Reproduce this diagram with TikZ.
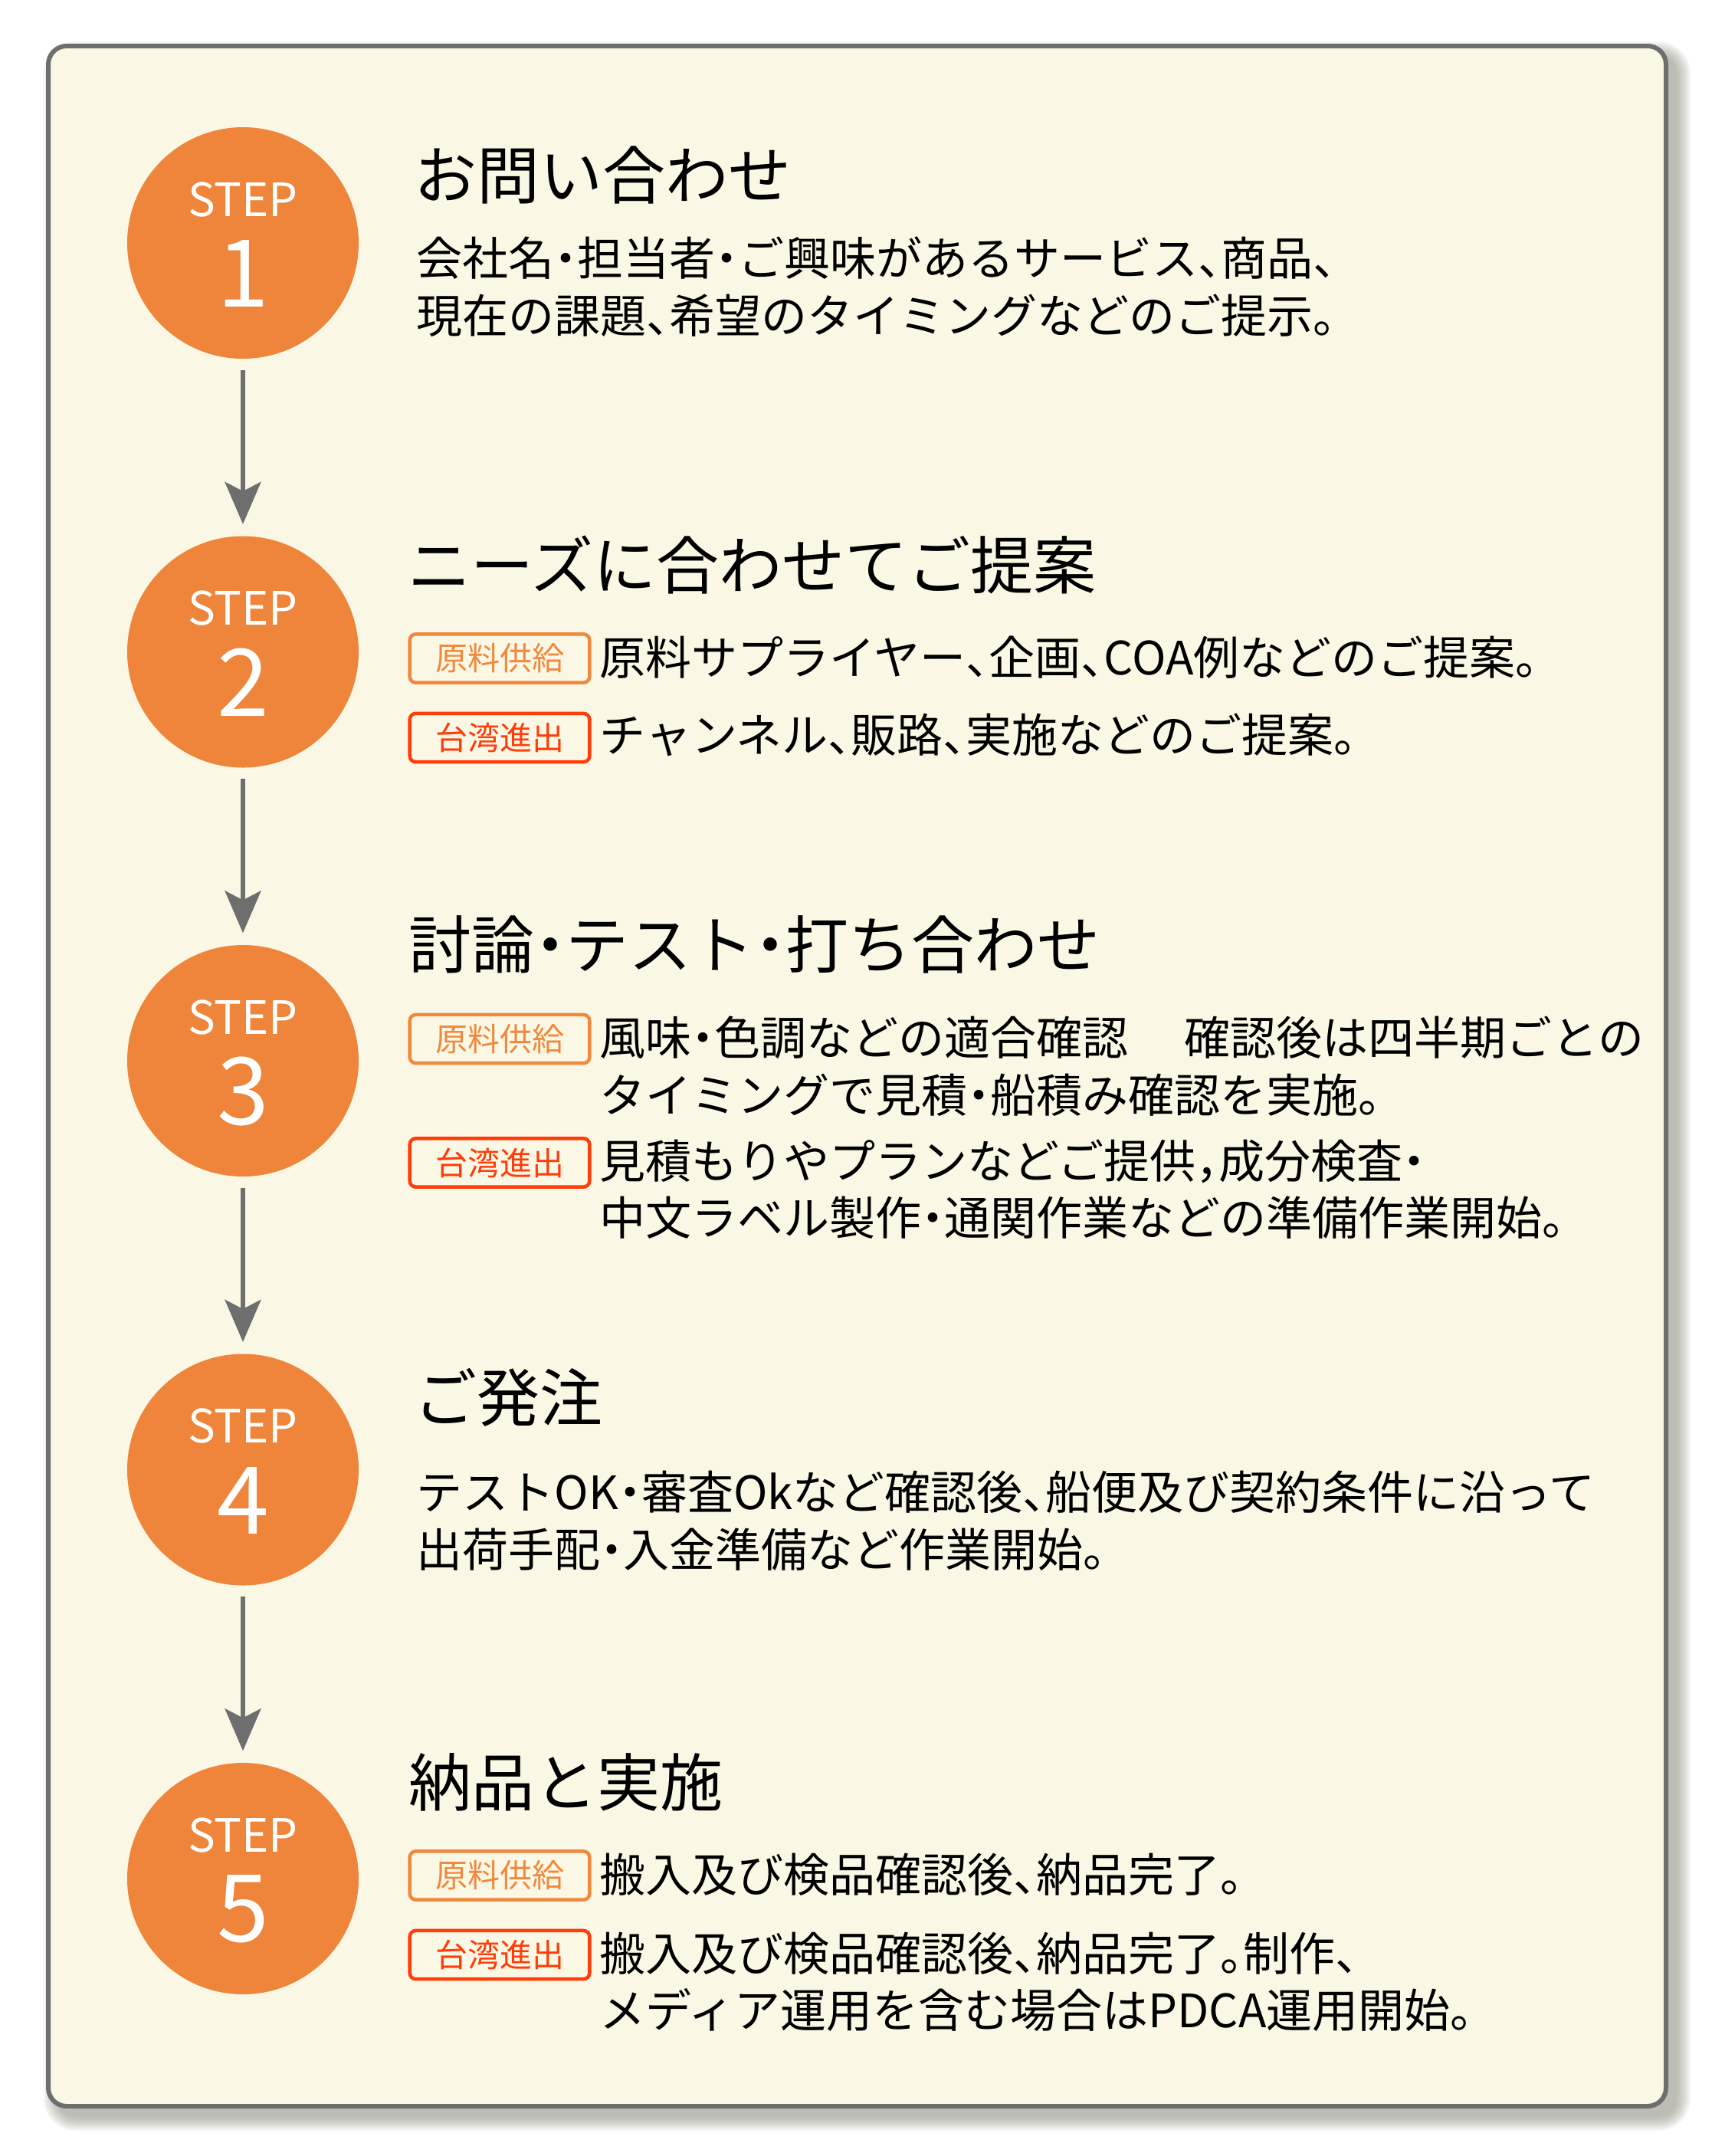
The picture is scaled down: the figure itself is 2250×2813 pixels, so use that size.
\documentclass[tikz,border=0pt]{standalone}
\usepackage{fontspec}
\setmainfont{Noto Sans CJK JP}
\usetikzlibrary{arrows.meta}
\definecolor{bgc}{HTML}{FAF8E5}
\definecolor{framec}{HTML}{6E6E6E}
\definecolor{stepor}{HTML}{EE853B}
\definecolor{tagor}{HTML}{F0893E}
\definecolor{tagred}{HTML}{FF3C0A}
\definecolor{shadowc}{HTML}{8F8F80}
\newcommand\hp[1]{{\addfontfeature{RawFeature=+halt}#1}}
\begin{document}
\begin{tikzpicture}[x=0.3pt,y=-0.3pt,
  stepc/.style={circle, fill=stepor, minimum size=90.6pt, inner sep=0pt},
  steplbl/.style={text=white, font=\fontsize{18pt}{18pt}\selectfont, inner sep=0pt},
  stepnum/.style={text=white, font=\fontsize{36.6pt}{36.6pt}\selectfont, inner sep=0pt},
  ttl/.style={anchor=west, inner sep=0pt, font=\fontsize{24.6pt}{24.6pt}\selectfont},
  body/.style={anchor=west, inner sep=0pt, font=\fontsize{18pt}{18pt}\selectfont},
  tagbox/.style={draw=#1, text=#1, line width=1.35pt, rounded corners=2.4pt, minimum width=70.4pt, minimum height=19pt, inner sep=0pt, font=\fontsize{12.6pt}{12.6pt}\selectfont},
  arr/.style={draw=framec, line width=1.7pt, -{Stealth[length=16.5pt, width=14.1pt, inset=3.6pt]}}
]
\useasboundingbox (0,0) rectangle (2250,2813);
\fill[white] (0,0) rectangle (2250,2813);
% shadow
\foreach \i in {0,...,9}{
  \pgfmathsetmacro\ext{2*\i}
  \pgfmathsetmacro\rr{(24+2*\i)*0.3}
  \fill[shadowc, opacity=0.08, rounded corners=\rr pt] (75-\ext,72-\ext) rectangle (2188+\ext,2762+\ext);
}
% frame
\draw[framec, line width=1.8pt, fill=bgc, rounded corners=7.2pt] (63,60) rectangle (2174,2748);

% circles
\foreach \n/\y in {1/317,2/850.5,3/1384,4/1917.5,5/2451}{
  \node[stepc] (s\n) at (317,\y) {};
  \node[steplbl] (s\n l) at (317,\y-57) {STEP};
  \node[stepnum] (s\n n) at (317,\y+40) {\n};
}
\draw[arr] ([yshift=-4.2pt]s1.south) -- ([yshift=4.5pt]s2.north);
\draw[arr] ([yshift=-4.2pt]s2.south) -- ([yshift=4.5pt]s3.north);
\draw[arr] ([yshift=-4.2pt]s3.south) -- ([yshift=4.5pt]s4.north);
\draw[arr] ([yshift=-4.2pt]s4.south) -- ([yshift=4.5pt]s5.north);

% step 1
\node[ttl] (t1) at (540,228.5) {お問い合わせ};
\node[body] (b1a) at (543,337) {会社名\hp{・}担当者\hp{・}ご興味があるサービス\hp{、}商品、};
\node[body] (b1b) at (543,412) {現在の課題\hp{、}希望のタイミングなどのご提示。};

% step 2
\node[ttl] (t2) at (532,736.5) {ニーズに合わせてご提案};
\node[tagbox=tagor] (g2a) at (652,859) {原料供給};
\node[body] (b2a) at (782,858) {原料サプライヤー\hp{、}企画\hp{、}COA例などのご提案。};
\node[tagbox=tagred] (g2b) at (652,962.5) {台湾進出};
\node[body] (b2b) at (782,959) {チャンネル\hp{、}販路\hp{、}実施などのご提案。};

% step 3
\node[ttl] (t3) at (533,1232) {討論\hp{・}テスト\hp{・}打ち合わせ};
\node[tagbox=tagor] (g3a) at (652,1355.5) {原料供給};
\node[body] (b3a) at (782,1354) {風味\hp{・}色調などの適合確認　\hspace{4pt}確認後は四半期ごとの};
\node[body] (b3b) at (782,1429) {タイミングで見積\hp{・}船積み確認を実施。};
\node[tagbox=tagred] (g3b) at (652,1517) {台湾進出};
\node[body] (b3c) at (782,1515) {見積もりやプランなどご提供\hp{，}成分検査\hp{・}};
\node[body] (b3d) at (782,1589) {中文ラベル製作\hp{・}通関作業などの準備作業開始。};

% step 4
\node[ttl] (t4) at (540,1823) {ご発注};
\node[body] (b4a) at (543,1947) {テストOK\hp{・}審査Okなど確認後\hp{、}船便及び契約条件に沿って};
\node[body] (b4b) at (543,2022) {出荷手配\hp{・}入金準備など作業開始。};

% step 5
\node[ttl] (t5) at (533,2325) {納品と実施};
\node[tagbox=tagor] (g5a) at (652,2447) {原料供給};
\node[body] (b5a) at (782,2446) {搬入及び検品確認後\hp{、}納品完了。};
\node[tagbox=tagred] (g5b) at (652,2550.5) {台湾進出};
\node[body] (b5b) at (782,2549) {搬入及び検品確認後\hp{、}納品完了\hp{。}制作、};
\node[body] (b5c) at (782,2622) {メディア運用を含む場合はPDCA運用開始。};
\end{tikzpicture}
\end{document}
